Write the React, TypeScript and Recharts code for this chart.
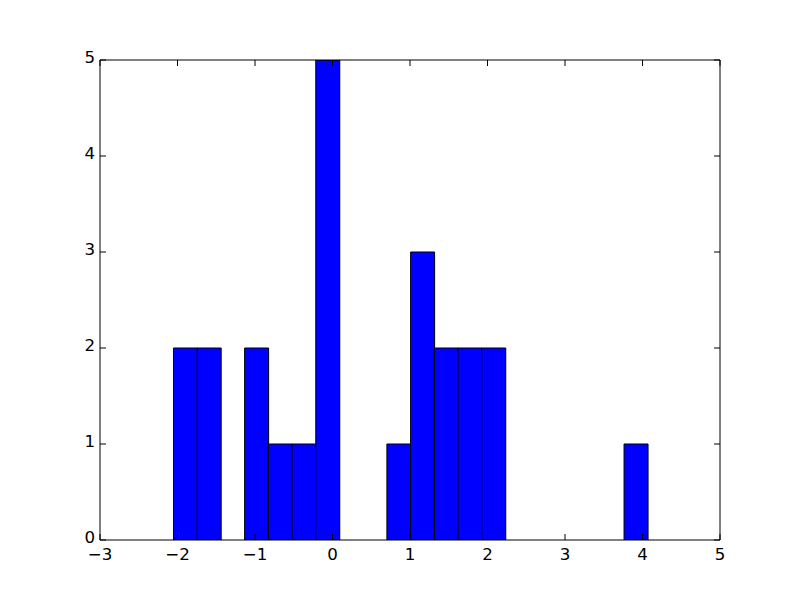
import { BarChart, Bar, XAxis, YAxis } from "recharts";

// histogram bin centres and counts per bin
const binCenters = [
  -1.899, -1.593, -1.287, -0.981, -0.675, -0.369, -0.063, 0.243, 0.549, 0.855,
  1.161, 1.467, 1.773, 2.079, 2.385, 2.691, 2.997, 3.303, 3.609, 3.915,
];
const counts = [2, 2, 0, 2, 1, 1, 5, 0, 0, 1, 3, 2, 2, 2, 0, 0, 0, 0, 0, 1];

const xTicks = [-3, -2, -1, 0, 1, 2, 3, 4, 5];
const yTicks = [0, 1, 2, 3, 4, 5];

const data = binCenters.map((x, i) => ({ x, count: counts[i] }));

const tickFont = {
  fontFamily: "DejaVu Sans",
  fontSize: 16.67,
  fill: "#000000",
};

const fmt = (v: number) => (v < 0 ? `\u2212${-v}` : `${v}`);
const blank = () => "";

export default function App() {
  return (
    <div
      style={{
        position: "absolute",
        left: 0,
        top: 0,
        width: 800,
        height: 600,
        background: "#ffffff",
      }}
    >
      <BarChart
        width={800}
        height={600}
        data={data}
        margin={{ top: 59, right: 79, bottom: 0, left: 0 }}
        barCategoryGap={0}
        barGap={0}
      >
        <Bar
          dataKey="count"
          fill="#0000ff"
          stroke="#000000"
          strokeWidth={1}
          isAnimationActive={false}
        />
        <XAxis
          dataKey="x"
          type="number"
          domain={[-3, 5]}
          allowDataOverflow
          ticks={xTicks}
          interval={0}
          height={60}
          tickSize={-6}
          tickMargin={14}
          tickFormatter={fmt}
          tick={tickFont}
          axisLine={{ stroke: "#000000", strokeWidth: 1 }}
          tickLine={{ stroke: "#000000", strokeWidth: 1 }}
        />
        <XAxis
          xAxisId="top"
          orientation="top"
          dataKey="x"
          type="number"
          domain={[-3, 5]}
          allowDataOverflow
          ticks={xTicks}
          interval={0}
          height={1}
          tickSize={-6}
          tickFormatter={blank}
          axisLine={{ stroke: "#000000", strokeWidth: 1 }}
          tickLine={{ stroke: "#000000", strokeWidth: 1 }}
        />
        <YAxis
          type="number"
          domain={[0, 5]}
          allowDataOverflow
          ticks={yTicks}
          interval={0}
          width={100}
          tickSize={-6}
          tickMargin={11}
          tickFormatter={fmt}
          tick={{ ...tickFont, dy: -3 }}
          axisLine={{ stroke: "#000000", strokeWidth: 1 }}
          tickLine={{ stroke: "#000000", strokeWidth: 1 }}
        />
        <YAxis
          yAxisId="right"
          orientation="right"
          type="number"
          domain={[0, 5]}
          allowDataOverflow
          ticks={yTicks}
          interval={0}
          width={1}
          tickSize={-6}
          tickFormatter={blank}
          axisLine={{ stroke: "#000000", strokeWidth: 1 }}
          tickLine={{ stroke: "#000000", strokeWidth: 1 }}
        />
      </BarChart>
    </div>
  );
}
